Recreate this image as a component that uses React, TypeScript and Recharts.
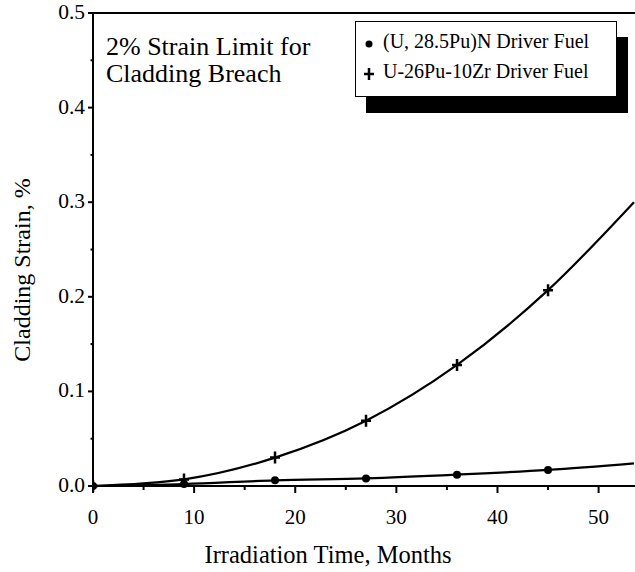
import React from "react";
import { ComposedChart, Line, XAxis, YAxis, ReferenceLine, Legend } from "recharts";

// months of irradiation, read at the marker positions (last value = curve end)
const months = [0, 9, 18, 27, 36, 45, 53.5];
const nitrideStrain = [0, 0.002, 0.006, 0.008, 0.012, 0.017, 0.024];
const metalStrain = [0, 0.007, 0.03, 0.069, 0.128, 0.207, 0.3];

const xTicks = [0, 5, 10, 15, 20, 25, 30, 35, 40, 45, 50];
const yTicks = [0, 0.05, 0.1, 0.15, 0.2, 0.25, 0.3, 0.35, 0.4, 0.45, 0.5];

const nitrideName = "(U, 28.5Pu)N Driver Fuel";
const metalName = "U-26Pu-10Zr Driver Fuel";

const FONT = "'Liberation Serif', 'Times New Roman', serif";

const data = months.map((m, i) => ({
  month: m,
  nitride: nitrideStrain[i],
  metal: metalStrain[i],
}));

const lastIdx = months.length - 1;

function CircleDot(props: any) {
  const { cx, cy, index } = props;
  if (index === lastIdx) return <g key={`n${index}`} />;
  return <circle key={`n${index}`} cx={cx} cy={cy} r={4} fill="#000" />;
}

function PlusDot(props: any) {
  const { cx, cy, index } = props;
  if (index === lastIdx) return <g key={`m${index}`} />;
  return (
    <path
      key={`m${index}`}
      d={`M${cx - 5},${cy}H${cx + 5}M${cx},${cy - 6}V${cy + 6}`}
      stroke="#000"
      strokeWidth={2.5}
      fill="none"
    />
  );
}

function XTick(props: any) {
  const { x, y, payload } = props;
  const major = Math.round(payload.value) % 10 === 0;
  return (
    <g>
      <line x1={x} y1={y} x2={x} y2={y + (major ? 7 : 4)} stroke="#000" strokeWidth={2} />
      {major && (
        <text x={x} y={y + 38} textAnchor="middle" fontSize={21} fontFamily={FONT} fill="#000">
          {payload.value}
        </text>
      )}
    </g>
  );
}

function YTick(props: any) {
  const { x, y, payload } = props;
  const major = Math.round(payload.value * 100) % 10 === 0;
  return (
    <g>
      <line x1={x - (major ? 5 : 2.5)} y1={y} x2={x} y2={y} stroke="#000" strokeWidth={2} />
      {major && (
        <text x={x - 8} y={y + 6} textAnchor="end" fontSize={21.5} fontFamily={FONT} fill="#000">
          {payload.value.toFixed(1)}
        </text>
      )}
    </g>
  );
}

function LegendBox() {
  return (
    <div
      style={{
        width: 262,
        height: 76,
        boxSizing: "border-box",
        border: "1.5px solid #000",
        background: "#fff",
        boxShadow: "11px 16px 0 #000",
        fontFamily: FONT,
        fontSize: 20,
        color: "#000",
        position: "relative",
      }}
    >
      <svg width={20} height={76} style={{ position: "absolute", left: 4, top: 0 }}>
        <circle cx={9} cy={22} r={3.5} fill="#000" />
        <path d="M4,52H14M9,46V58" stroke="#000" strokeWidth={2.5} />
      </svg>
      <div style={{ position: "absolute", left: 27, top: 8, whiteSpace: "nowrap" }}>{nitrideName}</div>
      <div style={{ position: "absolute", left: 27, top: 38, whiteSpace: "nowrap" }}>{metalName}</div>
    </div>
  );
}

export default function App() {
  return (
    <div style={{ position: "absolute", left: 0, top: 0, width: 635, height: 572, background: "#fff", overflow: "hidden" }}>
      <ComposedChart width={635} height={572} data={data} margin={{ top: 13, right: 0, bottom: 0, left: 0 }}>
        <XAxis
          dataKey="month"
          type="number"
          domain={[0, 53.6]}
          ticks={xTicks}
          allowDataOverflow
          height={86}
          tickSize={0}
          tickMargin={0}
          tickLine={false}
          axisLine={{ stroke: "#000", strokeWidth: 2 }}
          tick={<XTick />}
          interval={0}
        />
        <YAxis
          type="number"
          domain={[0, 0.5]}
          ticks={yTicks}
          width={93}
          tickSize={0}
          tickMargin={0}
          tickLine={false}
          axisLine={{ stroke: "#000", strokeWidth: 2 }}
          tick={<YTick />}
          interval={0}
        />
        <ReferenceLine y={0.5} stroke="#000" strokeWidth={2} />
        <Line
          dataKey="nitride"
          name={nitrideName}
          type="monotone"
          stroke="#000"
          strokeWidth={2.2}
          dot={CircleDot}
          activeDot={false}
          isAnimationActive={false}
        />
        <Line
          dataKey="metal"
          name={metalName}
          type="monotone"
          stroke="#000"
          strokeWidth={2.2}
          dot={PlusDot}
          activeDot={false}
          isAnimationActive={false}
        />
        <Legend
          layout="vertical"
          align="center"
          verticalAlign="middle"
          content={<LegendBox />}
          wrapperStyle={{ left: 355, top: 21, width: 262, height: 76 }}
        />
        <text x={106} y={55} fontSize={26} fontFamily={FONT} fill="#000">
          2% Strain Limit for
        </text>
        <text x={106} y={82} fontSize={26} fontFamily={FONT} fill="#000">
          Cladding Breach
        </text>
        <text
          x={0}
          y={0}
          transform="translate(30,270) rotate(-90)"
          textAnchor="middle"
          fontSize={24}
          fontFamily={FONT}
          fill="#000"
        >
          Cladding Strain, %
        </text>
        <text x={328} y={563} textAnchor="middle" fontSize={24.5} fontFamily={FONT} fill="#000">
          Irradiation Time, Months
        </text>
      </ComposedChart>
    </div>
  );
}
